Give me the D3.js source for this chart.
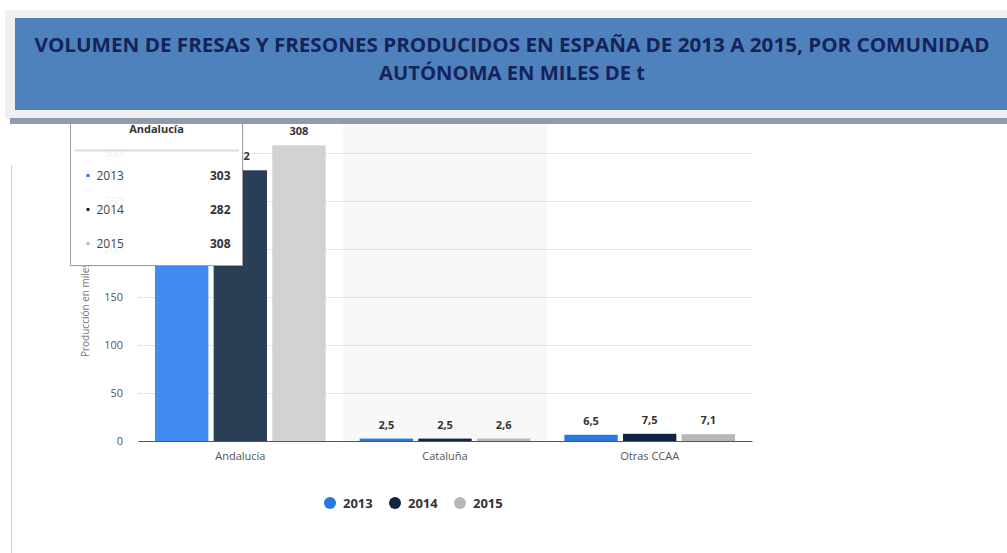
<!DOCTYPE html>
<html>
<head>
<meta charset="utf-8">
<script src="https://cdn.jsdelivr.net/npm/d3@7"></script>
<style>
  body { margin: 0; background: #fff; }
  svg { display: block; font-family: "Open Sans", sans-serif; }
</style>
</head>
<body>
<div id="chart"></div>
<script>
// Values
const regions = ['Andalucía', 'Cataluña', 'Otras CCAA'];
const years = ['2013', '2014', '2015'];
const values2013 = [303, 2.5, 6.5];
const values2014 = [282, 2.5, 7.5];
const values2015 = [308, 2.6, 7.1];
const yTicks = [0, 50, 100, 150, 200, 250, 300];

const seriesByYear = { '2013': values2013, '2014': values2014, '2015': values2015 };

const width = 1007, height = 553;
const colors = { '2013': '#2a78df', '2014': '#0f2540', '2015': '#b7b7b7' };
// hovered group (Andalucía) is drawn a bit lighter
const hoverColors = { '2013': '#418cf4', '2014': '#2a3f55', '2015': '#d2d2d2' };

const fmt = v => String(v).replace('.', ',');

const svg = d3.select('#chart').append('svg')
  .attr('width', width)
  .attr('height', height);

// chart area
const x = d3.scaleBand().domain(regions).range([138, 752]);
const xInner = d3.scaleBand().domain(years)
  .range([17, x.bandwidth() - 17])
  .paddingInner(0.09).paddingOuter(0);
const y = d3.scaleLinear().domain([0, 300]).range([441, 153]);

// left page rule
svg.append('line')
  .attr('x1', 11.5).attr('x2', 11.5).attr('y1', 165).attr('y2', height)
  .attr('stroke', '#cfcfcf');

// highlighted band behind Cataluña
svg.append('rect')
  .attr('x', x('Cataluña')).attr('y', 115)
  .attr('width', x.bandwidth()).attr('height', y(0) - 115)
  .attr('fill', '#f8f8f8');

// grid
svg.append('g').selectAll('line')
  .data(yTicks.filter(d => d > 0))
  .join('line')
  .attr('x1', 138).attr('x2', 752)
  .attr('y1', d => Math.round(y(d)) + 0.5).attr('y2', d => Math.round(y(d)) + 0.5)
  .attr('stroke', '#cccccc')
  .attr('stroke-dasharray', '1,1');

// y axis labels
const yAxis = svg.append('g')
  .attr('transform', 'translate(123,0)')
  .call(d3.axisLeft(y).tickValues(yTicks).tickSize(0).tickPadding(0));
yAxis.select('.domain').remove();
yAxis.selectAll('text')
  .attr('fill', '#555')
  .style('font-size', '11px')
  .style('font-family', '"Open Sans", sans-serif');

svg.append('text')
  .attr('transform', 'translate(89,357) rotate(-90)')
  .attr('fill', '#777')
  .style('font-size', '10px')
  .text('Producción en miles de toneladas');

// bars
const groups = svg.append('g').selectAll('g')
  .data(regions)
  .join('g')
  .attr('transform', d => `translate(${x(d)},0)`);

groups.selectAll('rect')
  .data((r, i) => years.map(yr => ({ region: r, year: yr, value: seriesByYear[yr][i] })))
  .join('rect')
  .attr('x', d => xInner(d.year))
  .attr('y', d => y(d.value))
  .attr('width', xInner.bandwidth())
  .attr('height', d => y(0) - y(d.value))
  .attr('fill', d => d.region === 'Andalucía' ? hoverColors[d.year] : colors[d.year]);

groups.selectAll('text')
  .data((r, i) => years.map(yr => ({ region: r, year: yr, value: seriesByYear[yr][i] })))
  .join('text')
  .attr('x', d => xInner(d.year) + xInner.bandwidth() / 2)
  .attr('y', d => y(d.value) - 10)
  .attr('text-anchor', 'middle')
  .attr('fill', '#333')
  .style('font-size', '11px')
  .style('font-weight', 'bold')
  .text(d => fmt(d.value));

// x axis
const xAxis = svg.append('g')
  .attr('transform', `translate(0,${y(0)})`)
  .call(d3.axisBottom(x).tickSize(0).tickPadding(11));
xAxis.select('.domain').attr('stroke', '#555').attr('stroke-width', 1.2);
xAxis.selectAll('text')
  .attr('fill', '#555')
  .style('font-size', '11px')
  .style('font-family', '"Open Sans", sans-serif');

// legend
const legend = svg.append('g').selectAll('g')
  .data(years)
  .join('g')
  .attr('transform', (d, i) => `translate(${330 + i * 65},503)`);
legend.append('circle').attr('r', 6).attr('fill', d => colors[d]);
legend.append('text')
  .attr('x', 13).attr('dy', '0.36em')
  .attr('fill', '#333')
  .style('font-size', '13px')
  .style('font-weight', 'bold')
  .text(d => d);

// tooltip box for Andalucía
const tip = svg.append('g').attr('transform', 'translate(70.5,110.5)');
tip.append('rect')
  .attr('x', 1).attr('y', 1)
  .attr('width', 172).attr('height', 155)
  .attr('fill', '#000').attr('fill-opacity', 0.08);
tip.append('rect')
  .attr('width', 172).attr('height', 155)
  .attr('fill', '#fff')
  .attr('stroke', '#a0a0a0');
// tick labels faintly visible through the tooltip
tip.selectAll('text.ghost')
  .data(yTicks.filter(d => y(d) < 265))
  .join('text')
  .attr('class', 'ghost')
  .attr('x', 123 - 70.5).attr('y', d => y(d) - 110.5).attr('dy', '0.32em')
  .attr('text-anchor', 'end')
  .attr('fill', '#eeeeee')
  .style('font-size', '11px')
  .text(d => d);
tip.append('text')
  .attr('x', 86).attr('y', 22)
  .attr('text-anchor', 'middle')
  .attr('fill', '#333')
  .style('font-size', '11px')
  .style('font-weight', 'bold')
  .text('Andalucía');
tip.append('line')
  .attr('x1', 4).attr('x2', 168).attr('y1', 40).attr('y2', 40)
  .attr('stroke', '#dcdcdc').attr('stroke-width', 2);
const rows = tip.selectAll('g.row')
  .data(years)
  .join('g')
  .attr('class', 'row')
  .attr('transform', (d, i) => `translate(0,${65 + i * 34})`);
rows.append('rect')
  .attr('x', 16).attr('y', -1.5).attr('width', 3).attr('height', 3)
  .attr('fill', d => colors[d]);
rows.append('text')
  .attr('x', 26).attr('dy', '0.36em')
  .attr('fill', '#444')
  .style('font-size', '12px')
  .text(d => d);
rows.append('text')
  .attr('x', 160).attr('dy', '0.36em')
  .attr('text-anchor', 'end')
  .attr('fill', '#333')
  .style('font-size', '12px')
  .style('font-weight', 'bold')
  .text(d => fmt(seriesByYear[d][0]));

// header: grey frame, blue banner, rule below
svg.append('rect')
  .attr('x', 5).attr('y', 10).attr('width', width - 5).attr('height', 109)
  .attr('fill', '#f0f0f0');
svg.append('rect')
  .attr('x', 15).attr('y', 18).attr('width', width - 15).attr('height', 92)
  .attr('fill', '#4f81bd');
svg.append('rect')
  .attr('x', 10).attr('y', 118).attr('width', width - 10).attr('height', 6)
  .attr('fill', '#8e9bad');

const titleLines = [
  'VOLUMEN DE FRESAS Y FRESONES PRODUCIDOS EN ESPAÑA  DE 2013 A 2015, POR COMUNIDAD',
  'AUTÓNOMA EN MILES DE t'
];
svg.append('g').selectAll('text')
  .data(titleLines)
  .join('text')
  .attr('x', 512)
  .attr('y', (d, i) => 52 + i * 28)
  .attr('text-anchor', 'middle')
  .attr('fill', '#14245a')
  .style('font-family', '"Liberation Sans Narrow", "Open Sans", sans-serif')
  .style('font-size', '20px')
  .style('font-weight', 'bold')
  .attr('textLength', (d, i) => i === 0 ? 955 : 266)
  .attr('lengthAdjust', 'spacingAndGlyphs')
  .text(d => d);
</script>
</body>
</html>
